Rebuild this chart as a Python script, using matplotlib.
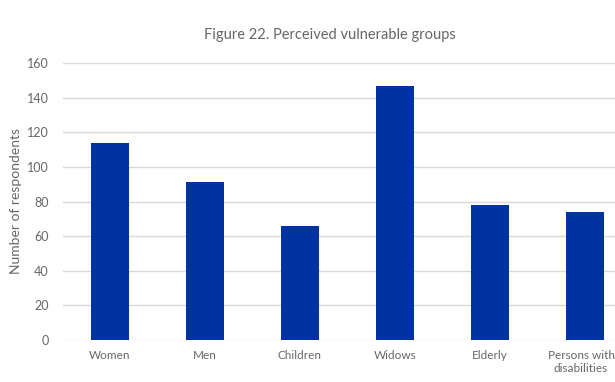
import numpy as np
import matplotlib
matplotlib.use('Agg')
import matplotlib.pyplot as plt
import matplotlib.transforms as mtransforms

groups = ['Women', 'Men', 'Children', 'Widows', 'Elderly', 'Persons with\ndisabilities']
respondents = [114, 91, 66, 147, 78, 74]
yticks = [0, 20, 40, 60, 80, 100, 120, 140, 160]

plt.rcParams['font.family'] = ['Lato', 'DejaVu Sans']
text_col = '#666666'

fig = plt.figure(figsize=(6.15, 3.82), dpi=100)
# plot area runs slightly past the right edge of the figure
ax = fig.add_axes([62.5 / 615, 42 / 382, 570 / 615, 277 / 382])

x = np.arange(len(groups))
ax.bar(x, respondents, width=0.4, color='#0033a0', zorder=3)

ax.set_xlim(-0.5, len(groups) - 0.5)
ax.set_ylim(0, 160)
ax.set_yticks(yticks)
ax.set_xticks(x)
ax.set_xticklabels(groups, fontsize=8.5, color=text_col, linespacing=1.25)
ax.tick_params(axis='y', labelsize=9, labelcolor=text_col, length=0, pad=10)
ax.tick_params(axis='x', length=0, pad=7)
ax.grid(axis='y', color='#d9d9d9', linewidth=1, zorder=0)
for s in ax.spines.values():
    s.set_visible(False)

# keep the last label inside the figure
last = ax.get_xticklabels()[-1]
last.set_transform(last.get_transform() + mtransforms.ScaledTranslation(-4 / 100, 0, fig.dpi_scale_trans))

ax.set_ylabel('Number of respondents', fontsize=10, color=text_col, va='center')
ax.yaxis.set_label_coords(16 / 615, (42 + 277 / 2) / 382, transform=fig.transFigure)

fig.text(330 / 615, 1 - 35 / 382, 'Figure 22. Perceived vulnerable groups',
         fontsize=10.5, color=text_col, ha='center', va='center')

plt.savefig('out.png', dpi=100)
